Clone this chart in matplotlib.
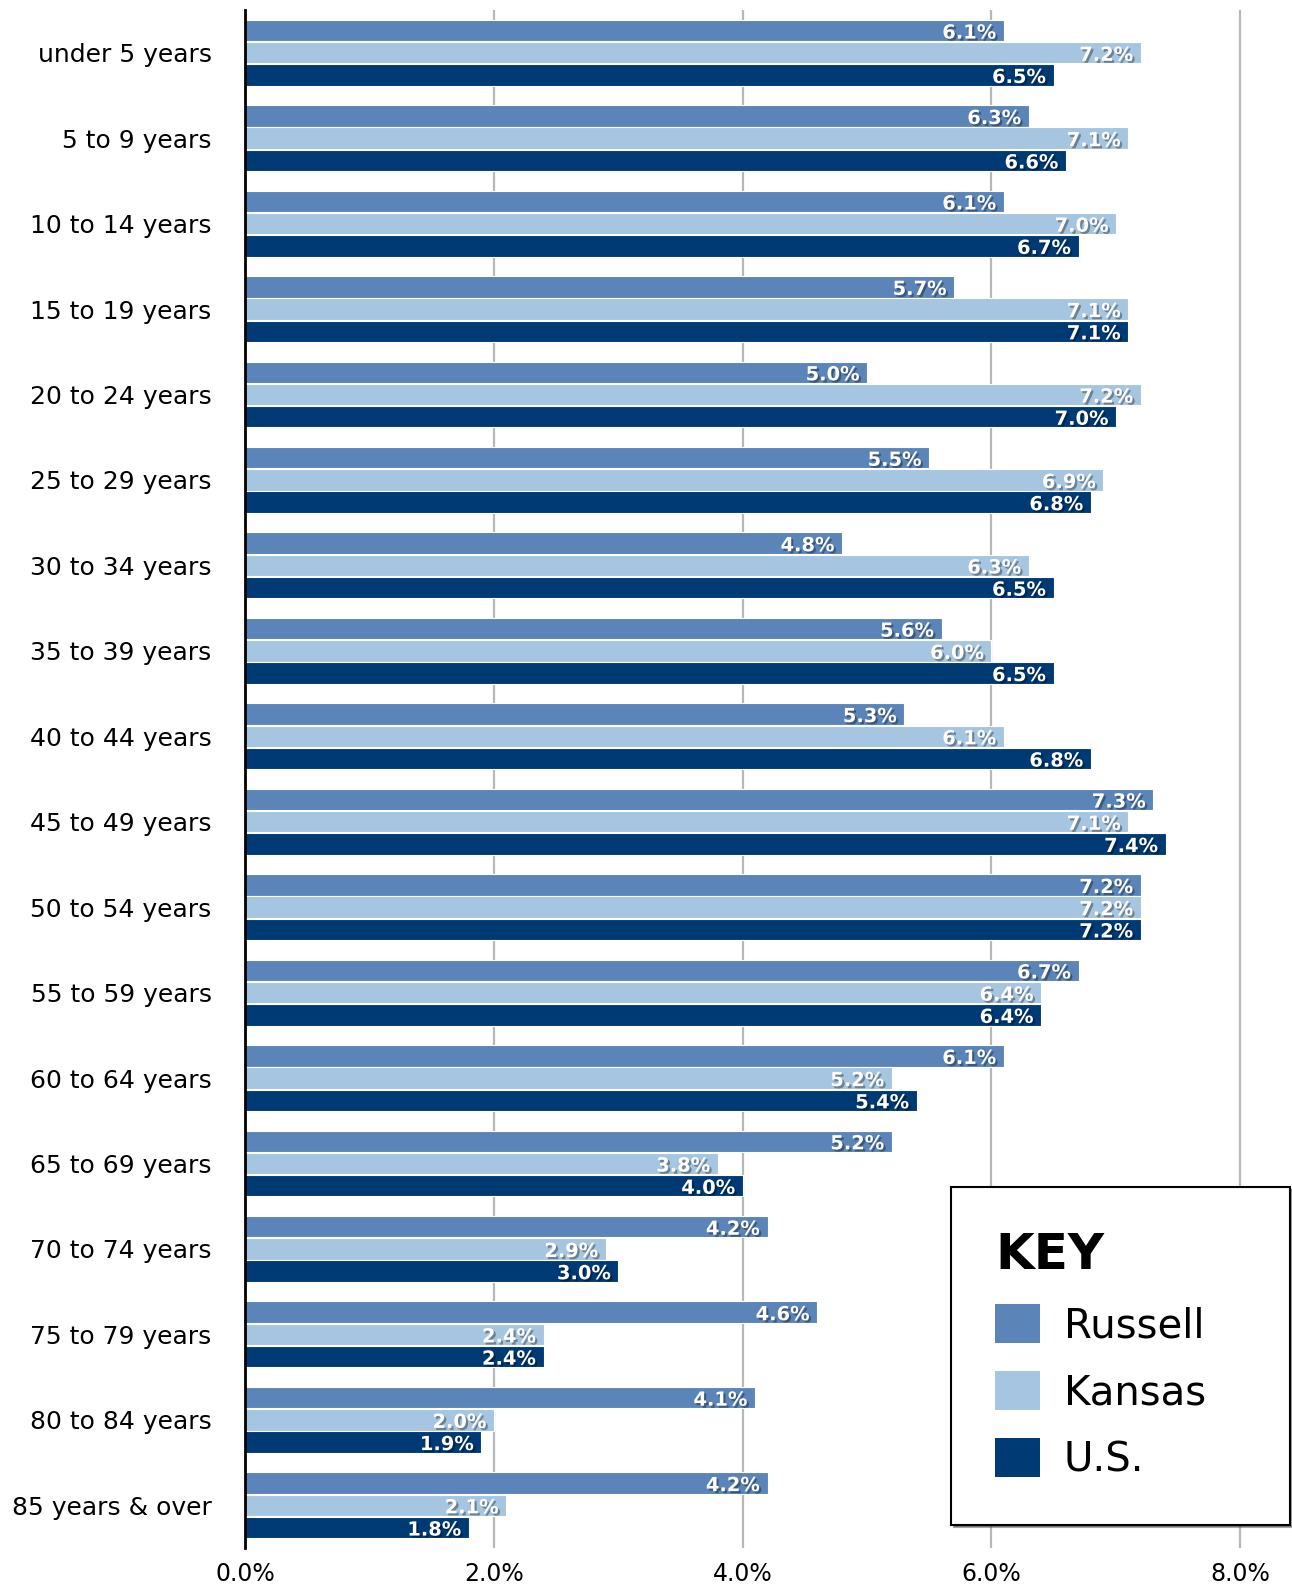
import numpy as np
import matplotlib
matplotlib.use('Agg')
import matplotlib.pyplot as plt
import matplotlib.patheffects as pe
from matplotlib.patches import Patch

ages = ['under 5 years', '5 to 9 years', '10 to 14 years', '15 to 19 years',
        '20 to 24 years', '25 to 29 years', '30 to 34 years', '35 to 39 years',
        '40 to 44 years', '45 to 49 years', '50 to 54 years', '55 to 59 years',
        '60 to 64 years', '65 to 69 years', '70 to 74 years', '75 to 79 years',
        '80 to 84 years', '85 years & over']
russell = [6.1, 6.3, 6.1, 5.7, 5.0, 5.5, 4.8, 5.6, 5.3, 7.3, 7.2, 6.7, 6.1, 5.2, 4.2, 4.6, 4.1, 4.2]
kansas = [7.2, 7.1, 7.0, 7.1, 7.2, 6.9, 6.3, 6.0, 6.1, 7.1, 7.2, 6.4, 5.2, 3.8, 2.9, 2.4, 2.0, 2.1]
us = [6.5, 6.6, 6.7, 7.1, 7.0, 6.8, 6.5, 6.5, 6.8, 7.4, 7.2, 6.4, 5.4, 4.0, 3.0, 2.4, 1.9, 1.8]
xticks = [0, 2, 4, 6, 8]

series = [('Russell', russell, '#5b85b8'),
          ('Kansas', kansas, '#a5c5e0'),
          ('U.S.', us, '#003a75')]

plt.rcParams['font.family'] = 'DejaVu Sans'

fig = plt.figure(figsize=(12.92, 15.90), dpi=100)
ax = fig.add_axes([245/1292, 1 - 1548/1590, (1290-245)/1292, (1548-10)/1590])

y = np.arange(len(ages))
offsets = [-0.26, 0.0, 0.26]
shadow = [pe.SimplePatchShadow(offset=(1.5, -1.5), shadow_rgbFace='black', alpha=0.35), pe.Normal()]

for (name, vals, col), off in zip(series, offsets):
    bars = ax.barh(y + off, vals, height=0.25, color=col, edgecolor='white',
                   linewidth=0.8, zorder=2)
    for b, v in zip(bars, vals):
        ax.text(v - 0.06, b.get_y() + b.get_height() / 2 + 0.03, '%.1f%%' % v,
                ha='right', va='center', color='white', fontsize=14,
                fontweight='bold', zorder=3, path_effects=shadow)

ax.set_xlim(0, 8.4)
ax.set_ylim(len(ages) - 0.5, -0.5)
ax.set_yticks(y)
ax.set_yticklabels(ages, fontsize=18)
ax.set_xticks(xticks)
ax.set_xticklabels(['%.1f%%' % t for t in xticks], fontsize=17)
ax.tick_params(axis='both', length=0)
ax.tick_params(axis='y', pad=24)
ax.tick_params(axis='x', pad=10)
ax.grid(axis='x', color='#b8b8b8', linewidth=1.6, zorder=0)
ax.set_axisbelow(True)
for s in ['top', 'right', 'bottom']:
    ax.spines[s].set_visible(False)
ax.spines['left'].set_linewidth(2)
ax.spines['left'].set_color('black')
ax.spines['left'].set_zorder(4)

handles = [Patch(facecolor=c, edgecolor='none') for _, _, c in series]
labels = [n for n, _, _ in series]
leg = ax.legend(handles, labels, title='KEY', loc='upper left',
                bbox_to_anchor=(951/1292, 1 - 1187/1590 - 0.01, (1290-951)/1292, 0.01),
                bbox_transform=fig.transFigure, mode='expand',
                fontsize=29, title_fontproperties={'weight': 'bold', 'size': 36},
                alignment='left', frameon=True, fancybox=False, shadow=True,
                edgecolor='black', framealpha=1, handlelength=1.1, handleheight=1.1,
                handletextpad=0.6, labelspacing=0.62, borderpad=1.1, borderaxespad=0)
leg.get_frame().set_linewidth(1.5)
leg.set_zorder(5)

fig.savefig('out.png', dpi=100)
